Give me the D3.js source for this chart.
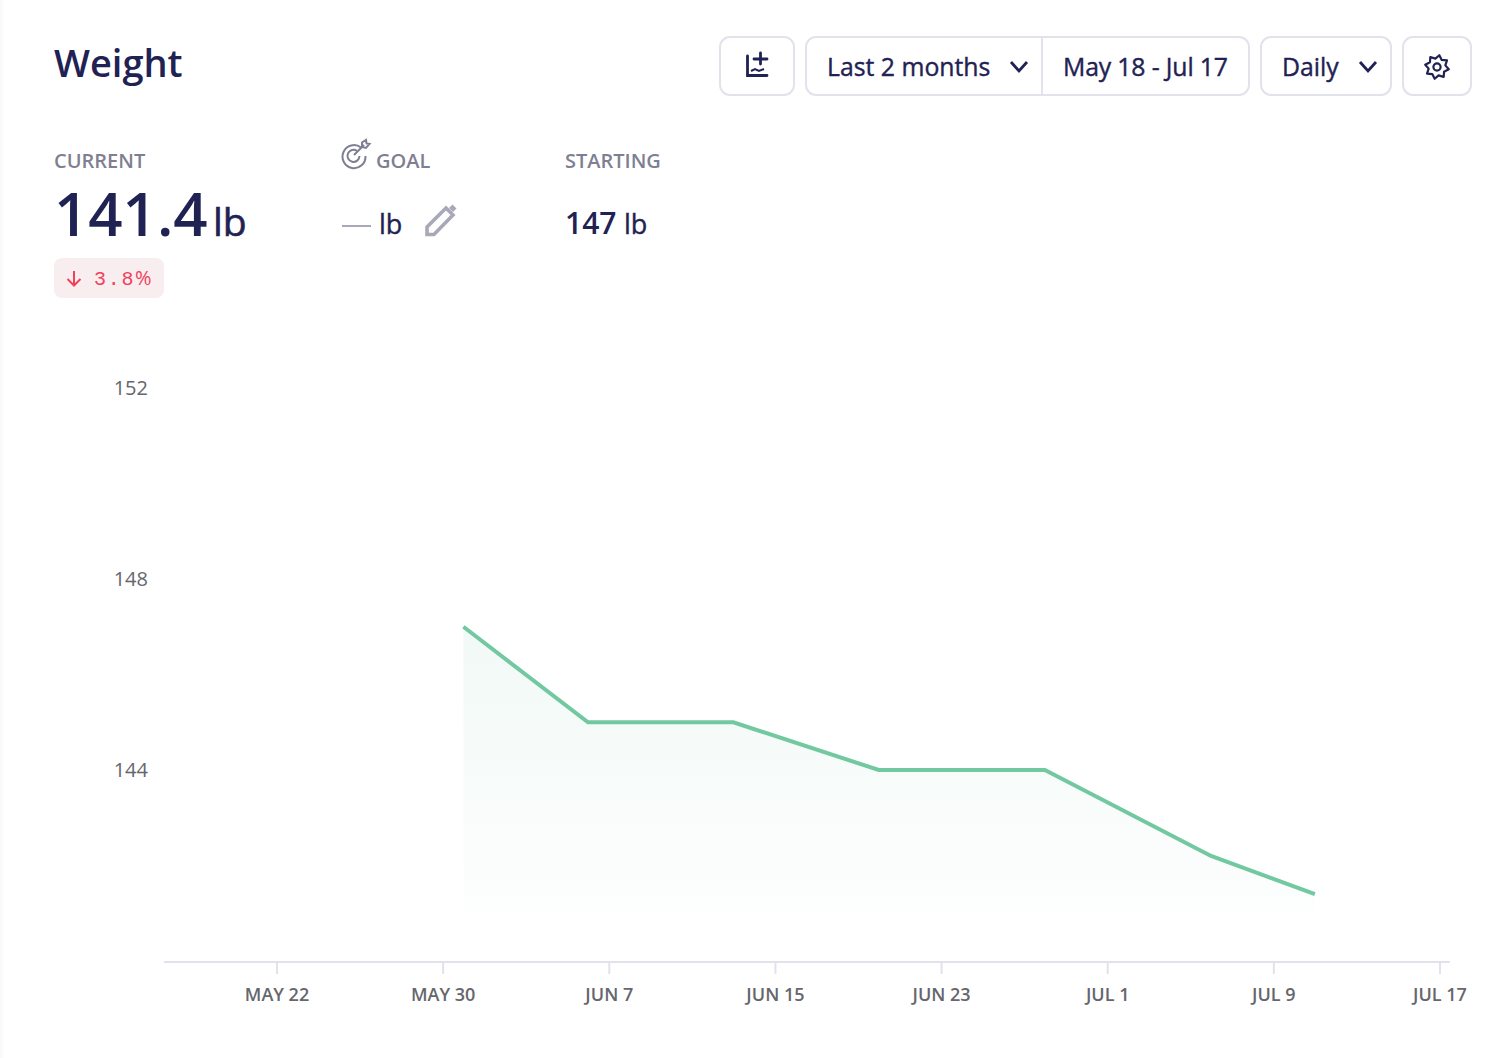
<!DOCTYPE html>
<html>
<head>
<meta charset="utf-8">
<script src="https://cdn.jsdelivr.net/npm/d3@7"></script>
<style>
  html, body { margin: 0; padding: 0; background: #fff; }
  svg { display: block; font-family: "Open Sans", sans-serif; }
  .axis text { font-family: "Open Sans", sans-serif; font-weight: 600; fill: #66666c; }
</style>
</head>
<body>
<svg id="chart" width="1512" height="1058"></svg>
<script>
const weightDates = ["2023-05-31", "2023-06-06", "2023-06-13", "2023-06-20", "2023-06-28", "2023-07-06", "2023-07-11"];
const weightValues = [147, 145, 145, 144, 144, 142.2, 141.4];
const tickDates = ["2023-05-22", "2023-05-30", "2023-06-07", "2023-06-15", "2023-06-23", "2023-07-01", "2023-07-09", "2023-07-17"];
const tickLabels = ["MAY 22", "MAY 30", "JUN 7", "JUN 15", "JUN 23", "JUL 1", "JUL 9", "JUL 17"];
const yTicks = [144, 148, 152];

const navy = "#1f2253";
const grey = "#7f7f93";
const border = "#e2e2ec";
const green = "#72c8a1";

const svg = d3.select("#chart");
const parse = d3.utcParse("%Y-%m-%d");
const data = weightDates.map((d, i) => ({ date: parse(d), value: weightValues[i] }));

const x = d3.scaleUtc().domain([parse(tickDates[0]), parse(tickDates[7])]).range([276.5, 1439.5]);
const y = d3.scaleLinear().domain([144, 152]).range([770, 388]);
const axisY = 962;

// faint shadow down the left edge of the card
const defs = svg.append("defs");
const edge = defs.append("linearGradient").attr("id", "edge");
edge.append("stop").attr("offset", "0%").attr("stop-color", "#f8f8f8");
edge.append("stop").attr("offset", "100%").attr("stop-color", "#ffffff");
svg.append("rect").attr("width", 5).attr("height", 1058).attr("fill", "url(#edge)");

// area fill
const grad = defs.append("linearGradient").attr("id", "fade").attr("gradientUnits", "userSpaceOnUse")
  .attr("x1", 0).attr("x2", 0).attr("y1", 626).attr("y2", 912);
grad.append("stop").attr("offset", "0%").attr("stop-color", "#f1f9f6");
grad.append("stop").attr("offset", "100%").attr("stop-color", "#fdfefe");

const area = d3.area().x(d => x(d.date)).y0(912).y1(d => y(d.value));
const line = d3.line().x(d => x(d.date)).y(d => y(d.value));

svg.append("path").datum(data).attr("d", area).attr("fill", "url(#fade)");
svg.append("path").datum(data).attr("d", line)
  .attr("fill", "none").attr("stroke", green).attr("stroke-width", 4);

// axes
const xAxis = d3.axisBottom(x)
  .tickValues(tickDates.map(parse))
  .tickSize(12)
  .tickPadding(14)
  .tickFormat((d, i) => tickLabels[i]);
const xg = svg.append("g").attr("class", "axis").attr("transform", `translate(0,${axisY})`).call(xAxis);
xg.select(".domain").remove();
xg.selectAll(".tick line").attr("stroke", border).attr("stroke-width", 2);
xg.selectAll("text").attr("font-size", 18);
svg.append("line").attr("x1", 164).attr("x2", 1450).attr("y1", axisY).attr("y2", axisY)
  .attr("stroke", border).attr("stroke-width", 2);

const yAxis = d3.axisLeft(y).tickValues(yTicks).tickSize(0).tickPadding(0);
const yg = svg.append("g").attr("class", "axis").attr("transform", "translate(148,0)").call(yAxis);
yg.select(".domain").remove();
yg.selectAll("text").attr("font-size", 20).style("font-weight", 500);

// header text
function label(txt, px, py, size, color, weight, anchor) {
  return svg.append("text").attr("x", px).attr("y", py).attr("font-size", size)
    .attr("fill", color).attr("font-weight", weight || 400).attr("text-anchor", anchor || "start").text(txt);
}
// no medium weight installed, so thicken the regular one a little
function medium(sel, w) {
  return sel.attr("stroke", sel.attr("fill")).attr("stroke-width", w);
}
label("Weight", 54, 77, 38, navy, 600);

label("CURRENT", 54, 168, 20, grey, 600);
label("GOAL", 376, 168, 20, grey, 600);
label("STARTING", 565, 168, 20, grey, 600);

label("141.4", 54, 236, 60, navy, 600);
medium(label("lb", 213, 236, 39, navy), 0.6);

svg.append("line").attr("x1", 342).attr("x2", 371).attr("y1", 226).attr("y2", 226)
  .attr("stroke", "#a8a8b8").attr("stroke-width", 2);
medium(label("lb", 379, 234, 27, navy), 0.4);
label("147", 565, 234, 30, navy, 600);
medium(label("lb", 624, 234, 27, navy), 0.4);

// change badge
svg.append("rect").attr("x", 54).attr("y", 258).attr("width", 110).attr("height", 40).attr("rx", 8).attr("fill", "#f8eef0");
svg.append("path").attr("d", "M74 271V285M67.5 279L74 285.5L80.5 279")
  .attr("fill", "none").attr("stroke", "#f2415a").attr("stroke-width", 2);
const badge = label("", 94, 285, 20, "#f2415a", 400);
badge.append("tspan").style("font-family", "'Liberation Mono', monospace").attr("letter-spacing", 1.7).text("3.8");
badge.append("tspan").text("%");

// toolbar
function box(px, w) {
  svg.append("rect").attr("x", px).attr("y", 37).attr("width", w).attr("height", 58).attr("rx", 10)
    .attr("fill", "#fff").attr("stroke", border).attr("stroke-width", 2);
}
function chevron(cx) {
  svg.append("path").attr("d", `M${cx - 8} 62L${cx} 71L${cx + 8} 62`)
    .attr("fill", "none").attr("stroke", navy).attr("stroke-width", 2.8);
}
box(720, 74);
box(806, 443);
box(1261, 130);
box(1403, 68);
svg.append("line").attr("x1", 1042).attr("x2", 1042).attr("y1", 37).attr("y2", 95).attr("stroke", border).attr("stroke-width", 2);
medium(label("Last 2 months", 827, 75.5, 24.8, navy), 0.4);
medium(label("May 18 - Jul 17", 1063, 75.5, 24.8, navy), 0.4).attr("textLength", 165);
medium(label("Daily", 1282, 75.5, 24.8, navy), 0.4);
chevron(1019);
chevron(1368);

// add-data icon
svg.append("path").attr("d", "M747.5 56V75.5H767M760.5 53V64M754 59H767")
  .attr("fill", "none").attr("stroke", navy).attr("stroke-width", 2.8).attr("stroke-linecap", "round");
svg.append("path").attr("d", "M751 71L755 69L759 71L764 69")
  .attr("fill", "none").attr("stroke", navy).attr("stroke-width", 2);

// settings gear
const gear = svg.append("g").attr("transform", "translate(1437,67)");
gear.append("circle").attr("r", 3.6).attr("fill", "none").attr("stroke", navy).attr("stroke-width", 2.2);
const gearPts = d3.range(16).map(i => {
  const a = i / 16 * 2 * Math.PI + Math.PI / 16;
  const r = i % 2 ? 8.5 : 12;
  return [r * Math.sin(a), -r * Math.cos(a)];
});
gear.append("path").attr("d", d3.line().curve(d3.curveLinearClosed)(gearPts))
  .attr("fill", "none").attr("stroke", navy).attr("stroke-width", 2.2).attr("stroke-linejoin", "round");

// goal target icon
const target = svg.append("g").attr("fill", "none").attr("stroke", grey).attr("stroke-width", 2);
target.append("path").attr("d", "M361 147.5A11.5 11.5 0 1 0 365.5 156");
target.append("path").attr("d", "M357 151A6 6 0 1 0 359.5 156");
target.append("path").attr("d", "M354 155L364 145");
target.append("path").attr("d", "M362 147L362 142.5L366 140L366.5 143.5L369.5 144L366 148Z");

// edit pencil
svg.append("path").attr("d", "M427 234.5V227L446 208L453 215L434 234.5Z")
  .attr("fill", "none").attr("stroke", "#a8a8b8").attr("stroke-width", 3.6);
svg.append("path").attr("d", "M449 208L452.5 204.5L456.5 208.5L453 212Z").attr("fill", "#a8a8b8");
</script>
</body>
</html>
